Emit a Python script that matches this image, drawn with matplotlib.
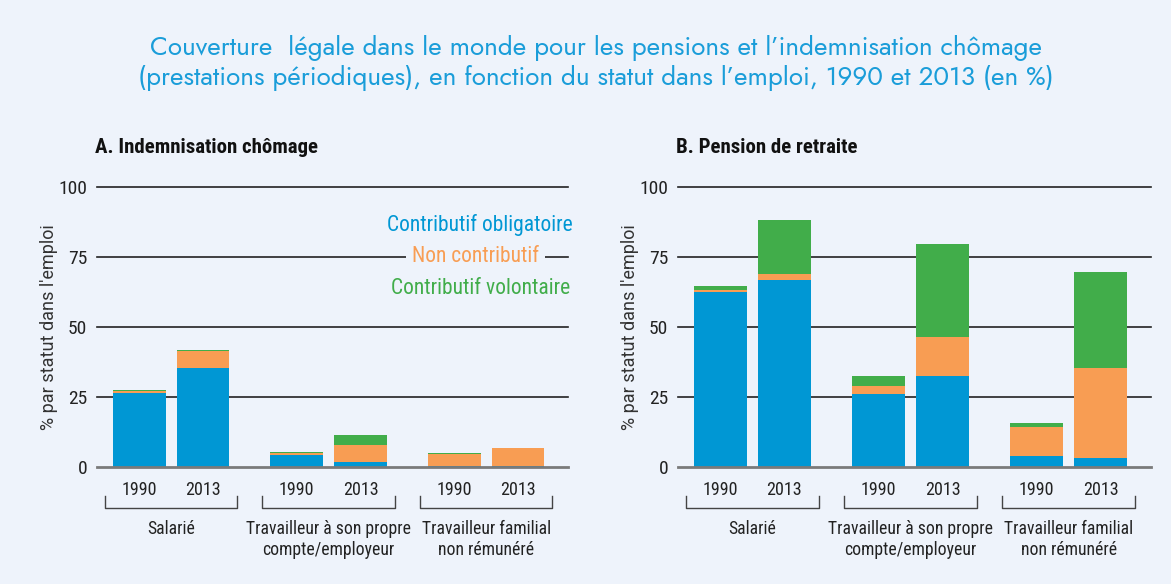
import matplotlib
matplotlib.use('Agg')
import matplotlib.pyplot as plt
import matplotlib.transforms as mtransforms

# ==== data ====
groupes = ['Salarié', 'Travailleur à son propre\ncompte/employeur', 'Travailleur familial\nnon rémunéré']
annees = ['1990', '2013']

# A. Indemnisation chômage (ordre: sal 1990, sal 2013, trav 1990, trav 2013, fam 1990, fam 2013)
chom_oblig = [26.3, 35.2, 4.2, 1.7, 0.4, 0.3]
chom_noncontr = [0.8, 6.2, 0.7, 6.0, 4.1, 6.4]
chom_volont = [0.4, 0.4, 0.5, 3.6, 0.4, 0.0]

# B. Pension de retraite
ret_oblig = [62.4, 66.7, 26.0, 32.4, 3.8, 3.1]
ret_noncontr = [0.7, 2.1, 2.8, 13.9, 10.4, 32.1]
ret_volont = [1.4, 19.3, 3.6, 33.2, 1.4, 34.3]

yticks = [0, 25, 50, 75, 100]

bleu = '#0097D4'
orange = '#F89D53'
vert = '#41AD4A'
fond = '#EEF3FB'

cond = ['Roboto Condensed', 'DejaVu Sans']

fig = plt.figure(figsize=(11.71, 5.84), dpi=100)
fig.patch.set_facecolor(fond)

fig.text(0.509, 1 - 63 / 584, "Couverture  légale dans le monde pour les pensions et l’indemnisation chômage\n"
         "(prestations périodiques), en fonction du statut dans l’emploi, 1990 et 2013 (en %)",
         ha='center', va='center', color='#1A9DD9', fontsize=18.8, family=['Jost', 'Lato', 'DejaVu Sans'],
         linespacing=1.2)


def panneau(ax, oblig, noncontr, volont, titre):
    ax.set_facecolor(fond)
    pos = []
    for g in range(3):
        pos += [g - 0.2025, g + 0.2025]
    bas2 = [a + b for a, b in zip(oblig, noncontr)]
    ax.bar(pos, oblig, width=0.335, color=bleu, zorder=3)
    ax.bar(pos, noncontr, bottom=oblig, width=0.335, color=orange, zorder=3)
    ax.bar(pos, volont, bottom=bas2, width=0.335, color=vert, zorder=3)
    for y in yticks:
        if y == 0:
            ax.axhline(y, color='#7a7a7a', lw=2, zorder=4, clip_on=False)
        else:
            ax.axhline(y, color='#222222', lw=1.2, zorder=1, clip_on=False)
    ax.set_xlim(-0.47, 2.52)
    ax.set_ylim(0, 100)
    ax.set_yticks(yticks)
    ax.set_yticklabels([str(y) for y in yticks], family=cond, fontsize=14, color='#222222')
    ax.tick_params(axis='y', length=0, pad=7)
    ax.set_xticks([])
    for s in ax.spines.values():
        s.set_visible(False)
    tr = mtransforms.blended_transform_factory(ax.transData, ax.transAxes)
    for g in range(3):
        for k, an in enumerate(annees):
            ax.text(pos[2 * g + k], -0.083, an, transform=tr, ha='center', va='center',
                    family=cond, fontsize=13, color='#222222')
        ax.plot([g - 0.42, g - 0.42, g + 0.42, g + 0.42], [-0.105, -0.1475, -0.1475, -0.105],
                transform=tr, color='#444444', lw=1, clip_on=False)
        ax.text(g, -0.19, groupes[g], transform=tr, ha='center', va='top',
                family=cond, fontsize=12.7, color='#222222', linespacing=1.2)
    ax.text(-0.005, 1.14, titre, transform=ax.transAxes, ha='left', va='center',
            family=cond, fontsize=15, fontweight='bold', color='#111111')


ax1 = fig.add_axes([97 / 1171, 0.2009, 471 / 1171, 0.4795])
panneau(ax1, chom_oblig, chom_noncontr, chom_volont, 'A. Indemnisation chômage')
ax2 = fig.add_axes([678 / 1171, 0.2009, 473 / 1171, 0.4795])
panneau(ax2, ret_oblig, ret_noncontr, ret_volont, 'B. Pension de retraite')

# légende dans le panneau A
trl = mtransforms.blended_transform_factory(ax1.transAxes, ax1.transData)
ax1.text(1.0106, 86.3, 'Contributif obligatoire', transform=trl,
         ha='right', va='center', color=bleu, family=cond, fontsize=15.5)
ax1.text(0.8036, 75, 'Non contributif', transform=trl,
         ha='center', va='center', color=orange, family=cond, fontsize=15.5, zorder=5,
         bbox=dict(facecolor=fond, edgecolor='none', pad=4))
ax1.text(1.0042, 63.8, 'Contributif volontaire', transform=trl,
         ha='right', va='center', color=vert, family=cond, fontsize=15.5)

for x in [49, 630]:
    fig.text(x / 1171, 1 - 327 / 584, "% par statut dans l'emploi", rotation=90, ha='center', va='center',
             family='Roboto', fontsize=13, color='#333333')

fig.savefig('out.png', dpi=100, facecolor=fond)
